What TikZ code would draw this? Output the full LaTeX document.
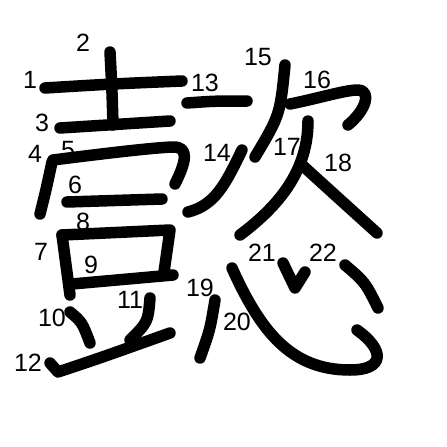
\documentclass[tikz,border=0pt]{standalone}
\usepackage{fontspec}
\setsansfont{Liberation Sans}
\begin{document}
\begin{tikzpicture}[x=1pt,y=-1pt,
      hua/.style={line width=11.5pt,line cap=round,line join=round},
      num/.style={font=\sffamily\fontsize{25}{25}\selectfont,inner sep=0pt}]
    \useasboundingbox (0,0) rectangle (447,447);
    % --- tratti: parte sinistra ---
    \draw[hua] (45,88) .. controls (110,84) .. (182,81);
    \draw[hua] (110,52) .. controls (112,90) .. (113,125);
    \draw[hua] (60,128) .. controls (115,124) .. (170,121);
    \draw[hua] (52,162) .. controls (46,190) .. (40,214);
    \draw[hua] (53,160) .. controls (100,154) and (150,148) .. (172,147)
      .. controls (190,146) and (186,162) .. (175,184);
    \draw[hua] (67,202) .. controls (115,200) .. (162,199);
    \draw[hua] (62,235) .. controls (66,265) .. (70,295);
    \draw[hua] (62,235) -- (170,230) -- (164,272);
    \draw[hua] (72,284) -- (173,275);
    \draw[hua] (70,312) .. controls (82,322) .. (90,343);
    \draw[hua] (150,298) .. controls (148,322) .. (130,340);
    \draw[hua] (50,363) -- (58,372) .. controls (100,358) .. (170,333);
    % --- tratti: parte destra ---
    \draw[hua] (187,103) .. controls (215,101) .. (247,101);
    \draw[hua] (242,150) .. controls (225,185) and (215,205) .. (188,212);
    \draw[hua] (285,65) .. controls (280,115) .. (255,157);
    \draw[hua] (290,104) .. controls (320,98) and (345,90) .. (358,90)
      .. controls (372,91) and (366,110) .. (348,125);
    \draw[hua] (308,121) .. controls (308,170) and (280,205) .. (240,235);
    \draw[hua] (302,165) .. controls (335,195) .. (377,233);
    % --- cuore ---
    \draw[hua] (215,300) .. controls (210,330) .. (200,358);
    \draw[hua] (232,268) .. controls (260,330) and (290,370) .. (350,370)
      .. controls (385,370) and (385,350) .. (357,330);
    \draw[hua] (283,263) -- (295,288) -- (305,272);
    \draw[hua] (345,265) .. controls (365,282) .. (378,308);
    % --- numeri ---
    \foreach \n/\x/\y in {%
        1/30/80, 2/83/43, 3/42/123, 4/35/154, 5/68/150, 6/75/185,
        7/41/252, 8/83/222, 9/91/265, 10/52/318, 11/130/300, 12/28/363,
        13/205/83, 14/217/153, 15/258/57, 16/317/80, 17/287/147, 18/338/163,
        19/200/288, 20/237/322, 21/262/253, 22/323/253}{
      \node[num] (n\n) at (\x,\y) {\n};
    }
  \end{tikzpicture}
\end{document}
